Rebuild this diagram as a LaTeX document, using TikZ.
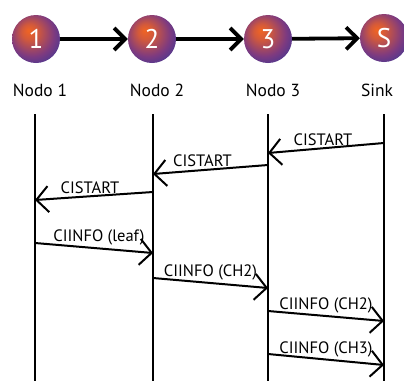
\documentclass[tikz,border=0pt]{standalone}
\usepackage{fontspec}
\setmainfont{PT Sans}
\usetikzlibrary{arrows.meta,positioning,calc}
\definecolor{ballorange}{RGB}{240,100,35}
\definecolor{ballpurple}{RGB}{125,58,128}
\definecolor{ballblue}{RGB}{58,55,150}
\pgfdeclareradialshading{seqball}{\pgfpoint{-8bp}{9bp}}{%
  color(0bp)=(ballorange); color(8bp)=(ballorange!75!ballpurple);
  color(23bp)=(ballpurple); color(35bp)=(ballblue); color(50bp)=(ballblue)}
\tikzset{
  seq/ball/.style={
    circle,
    minimum size=48pt,
    inner sep=0pt,
    shading=seqball,
    text=white,
    font=\fontsize{27}{27}\selectfont
  },
  seq/name/.style={font=\fontsize{17.5}{17.5}\selectfont},
  seq/link/.style={line width=3.8pt, -{Straight Barb[length=11pt, width=22pt, line width=3.8pt]}},
  seq/life/.style={line width=2pt},
  seq/msg/.style={line width=2pt, -{Straight Barb[length=12pt, width=26pt, line width=2pt]}},
  seq/lbl/.style={font=\fontsize{16.5}{16.5}\selectfont, above, inner sep=1.5pt}
}

\begin{document}
\begin{tikzpicture}[x=1pt, y=-1pt]
\useasboundingbox (0,0) rectangle (404,381);

\node[seq/ball] (n1) at (36,39) {1};
\node[seq/ball] (n2) at (152,39) {2};
\node[seq/ball] (n3) at (268,39) {3};
\node[seq/ball] (ns) at (384,38) {S};

\node[seq/name] (l1) at (40,90) {Nodo 1};
\node[seq/name] (l2) at (157,90) {Nodo 2};
\node[seq/name] (l3) at (273,90) {Nodo 3};
\node[seq/name] (ls) at (377,90) {Sink};

% --- links between the nodes
\draw[seq/link] (n1) -- (n2);
\draw[seq/link] (n2) -- (n3);
\draw[seq/link] (n3) -- (ns);

% --- lifelines
\coordinate (t1) at (35,114);  \coordinate (b1) at (35,381);
\coordinate (t2) at (153,114); \coordinate (b2) at (153,381);
\coordinate (t3) at (268,114); \coordinate (b3) at (268,381);
\coordinate (ts) at (384,114); \coordinate (bs) at (384,381);
\draw[seq/life] (t1) -- (b1);
\draw[seq/life] (t2) -- (b2);
\draw[seq/life] (t3) -- (b3);
\draw[seq/life] (ts) -- (bs);

% --- messages
\draw[seq/msg] (ts |- 0,143) -- node[seq/lbl, xshift=-3pt] {CISTART} (t3 |- 0,153);
\draw[seq/msg] (t3 |- 0,165) -- node[seq/lbl, xshift=-8pt] {CISTART} (t2 |- 0,174);
\draw[seq/msg] (t2 |- 0,192) -- node[seq/lbl, xshift=-4pt] {CISTART} (t1 |- 0,200);
\draw[seq/msg] (t1 |- 0,243) -- node[seq/lbl, xshift=5pt] {CIINFO (leaf)} (t2 |- 0,253);
\draw[seq/msg] (t2 |- 0,278) -- node[seq/lbl] {CIINFO (CH2)} (t3 |- 0,288);
\draw[seq/msg] (t3 |- 0,311) -- node[seq/lbl] {CIINFO (CH2)} (ts |- 0,321);
\draw[seq/msg] (t3 |- 0,354) -- node[seq/lbl] {CIINFO (CH3)} (ts |- 0,365);

\end{tikzpicture}
\end{document}
